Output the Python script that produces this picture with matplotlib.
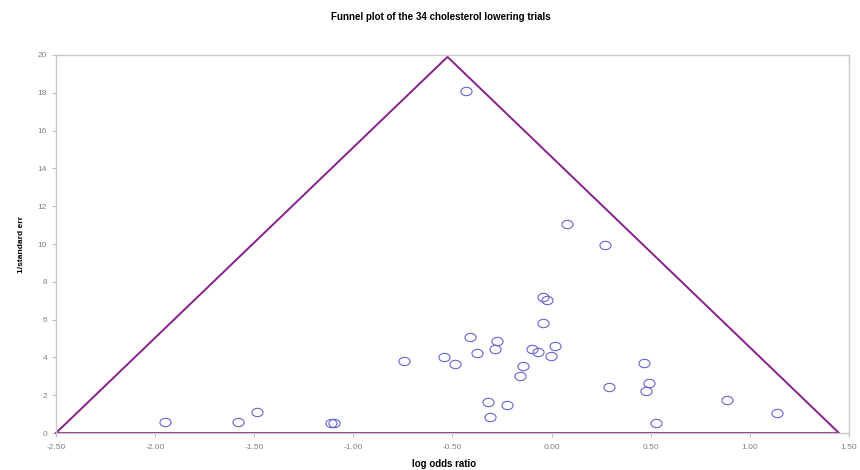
import numpy as np
import matplotlib
matplotlib.use("Agg")
from matplotlib import pyplot as plt
from matplotlib.path import Path
from matplotlib.ticker import FormatStrFormatter

plt.rcParams['font.family'] = ['Liberation Sans', 'DejaVu Sans']

# funnel outline (log odds ratio, 1/standard err)
funnel_x = [-2.5, -0.525, 1.45, -2.5]
funnel_y = [0.0, 19.9, 0.0, 0.0]

# the 34 trials
log_or = [-0.434, 0.079, 0.27, -0.044, -0.022, -0.045, -0.41, -0.276, -0.284,
          -0.377, -0.544, -0.488, -0.098, -0.069, 0.015, -0.005, -0.145, -0.16,
          -0.323, -0.227, -0.312, 0.29, 0.465, 0.49, 0.476, 0.525, 0.887, 1.136,
          -0.742, -1.95, -1.584, -1.485, -1.111, -1.10]
inv_se = [18.1, 11.04, 9.95, 7.18, 7.04, 5.80, 5.08, 4.89, 4.46,
          4.21, 4.0, 3.67, 4.43, 4.27, 4.60, 4.07, 3.53, 3.0,
          1.64, 1.48, 0.86, 2.42, 3.70, 2.64, 2.22, 0.55, 1.75, 1.04,
          3.83, 0.6, 0.6, 1.13, 0.55, 0.55]

# slightly flattened circle like the excel marker
circ = Path.unit_circle()
ellipse = Path(circ.vertices * np.array([1.0, 0.75]), circ.codes)

fig = plt.figure(figsize=(8.6, 4.7), dpi=100)
ax = fig.add_axes([0.0651, 0.0787, 0.922, 0.8043])

ax.plot(funnel_x, funnel_y, color='#87208a', lw=1.4, zorder=2, clip_on=False)
ax.plot(log_or, inv_se, linestyle='none', marker=ellipse, ms=8, mfc='none',
        mec='#6464d2', mew=0.8, zorder=3, clip_on=False)

ax.set_xlim(-2.5, 1.5)
ax.set_ylim(0, 20)
ax.set_xticks(np.arange(-2.5, 1.51, 0.5))
ax.set_yticks(np.arange(0, 21, 2))
ax.xaxis.set_major_formatter(FormatStrFormatter('%.2f'))

for side in ['left', 'top', 'right', 'bottom']:
    ax.spines[side].set_color('#c8c8c8')
    ax.spines[side].set_linewidth(1.0)

ax.tick_params(axis='both', colors='#c0c0c0', labelcolor='#808080',
               labelsize=6, length=3, width=0.8, direction='out')
ax.tick_params(axis='x', pad=5)

ax.set_title("Funnel plot of the 34 cholesterol lowering trials",
             fontsize=7, fontweight='bold', pad=25, x=0.485)
ax.set_xlabel("log odds ratio", fontsize=7, fontweight='bold', labelpad=6, x=0.49)
ax.set_ylabel("1/standard err", fontsize=6, fontweight='bold', labelpad=9)

fig.savefig("out.png", dpi=100)
